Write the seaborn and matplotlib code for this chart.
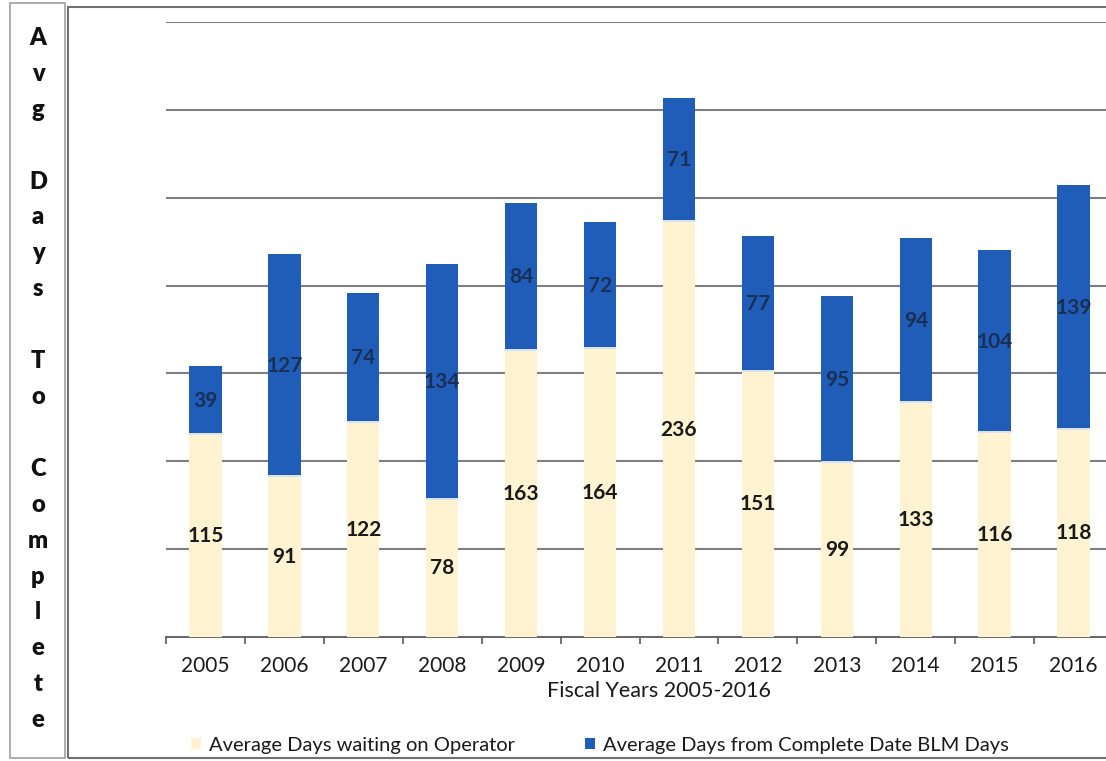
import matplotlib
matplotlib.use("Agg")
import matplotlib.pyplot as plt
from matplotlib.patches import Rectangle, Patch
import seaborn as sns
import pandas as pd
import numpy as np

years = ["2005", "2006", "2007", "2008", "2009", "2010",
         "2011", "2012", "2013", "2014", "2015", "2016"]
operator_days = [115, 91, 122, 78, 163, 164, 236, 151, 99, 133, 116, 118]
blm_days = [39, 127, 74, 134, 84, 72, 71, 77, 95, 94, 104, 139]

label_operator = "Average Days waiting on Operator"
label_blm = "Average Days from Complete Date BLM Days"
ylabel_letters = "Avg Days To Complete"

cream = "#FFF3D2"
blue = "#1F5DB9"

sns.set_theme(style="white")
plt.rcParams["font.family"] = ["Lato", "DejaVu Sans"]

df = pd.DataFrame({"year": years, "operator": operator_days, "blm": blm_days})
df["total"] = df["operator"] + df["blm"]

fig = plt.figure(figsize=(11.06, 7.61), dpi=100)
ax = fig.add_axes([166 / 1106, 124 / 761, 947 / 1106, 615 / 761])

# stacked look: draw totals in blue, then the operator part on top in cream
sns.barplot(data=df, x="year", y="total", color=blue, width=0.41,
            linewidth=0, saturation=1, ax=ax, zorder=2)
sns.barplot(data=df, x="year", y="operator", color=cream, width=0.41,
            linewidth=0, saturation=1, ax=ax, zorder=3)

# thin white gap between the two segments
x = np.arange(len(years))
ax.hlines(df["operator"] + 0.6, x - 0.205, x + 0.205, color="white", lw=1.2, zorder=4)

ax.set_ylim(0, 350)
ax.set_xlim(-0.5, len(years) - 0.5)
ax.set_yticks(np.arange(50, 351, 50))
ax.set_yticklabels([])
ax.yaxis.grid(True, color="#7F7F7F", linewidth=1.5)
ax.set_axisbelow(True)
for s in ["left", "right", "top"]:
    ax.spines[s].set_visible(False)
ax.spines["bottom"].set_color("#5A5A5A")
ax.spines["bottom"].set_linewidth(1.3)

ax.set_xticks(x)
ax.set_xticklabels(years, fontsize=15, color="#1A1A1A")
ax.set_xticks(np.arange(-0.5, len(years), 1), minor=True)
ax.tick_params(axis="x", which="major", length=0, pad=14)
ax.tick_params(axis="x", which="minor", length=5, width=1.2, color="#5A5A5A", direction="out",
               bottom=True)
ax.tick_params(axis="y", length=0)
ax.set_xlabel("Fiscal Years 2005-2016", fontsize=15.5, color="#1A1A1A", labelpad=3)
ax.xaxis.label.set_x((659 - 166) / 947)
ax.set_ylabel("")

for i in range(len(years)):
    ax.text(i, df["operator"][i] / 2, str(operator_days[i]), ha="center", va="center",
            fontsize=15, fontweight="bold", color="#1A1A1A", zorder=5)
    ax.text(i, df["operator"][i] + df["blm"][i] / 2, str(blm_days[i]), ha="center",
            va="center", fontsize=15, fontweight="bold", color="#1B2F55", zorder=5)

# frames like the scanned report
fig.patches.append(Rectangle((10 / 1106, 3 / 761), 55 / 1106, 755 / 761, transform=fig.transFigure,
                             fill=False, edgecolor="#A0A0A0", linewidth=1.2))
fig.patches.append(Rectangle((68 / 1106, 3 / 761), 1050 / 1106, 751 / 761, transform=fig.transFigure,
                             fill=False, edgecolor="#707070", linewidth=1.5))

# vertical y label, one letter per row
slots = list(ylabel_letters)
for k, ch in enumerate(slots):
    if ch == " ":
        continue
    fig.text(38 / 1106, 1 - (38 + k * 35.9) / 761, ch, ha="center", va="center",
             fontsize=17, fontweight="heavy", color="#111111")

handles = [Patch(facecolor=cream, edgecolor="none", label=label_operator),
           Patch(facecolor=blue, edgecolor="none", label=label_blm)]
fig.legend(handles=handles, loc="center", bbox_to_anchor=(600 / 1106, 1 - 745 / 761), ncol=2,
           frameon=False, fontsize=14.5, handlelength=0.5, handleheight=0.5, handletextpad=0.4,
           columnspacing=3.5, labelcolor="#1A1A1A")

fig.savefig("out.png", dpi=100)
